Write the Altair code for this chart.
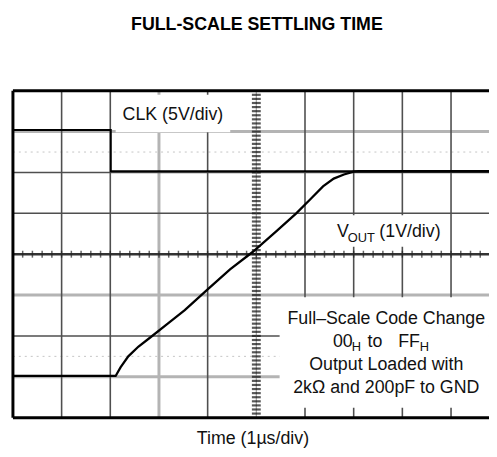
import altair as alt
import pandas as pd
import numpy as np

# ---------------- data (scope divisions: x from left edge, y from bottom) ----------------
clk_x = [0.0, 2.01, 2.01, 9.78]
clk_y = [7.04, 7.04, 6.03, 6.03]

vout_x = [0.0, 2.11, 2.21, 2.37, 2.58, 2.84, 3.18, 3.53, 4.00, 4.46, 4.93, 5.42, 5.82,
          6.13, 6.37, 6.59, 6.80, 7.00, 7.10, 9.78]
vout_y = [1.02, 1.02, 1.23, 1.50, 1.74, 1.98, 2.30, 2.63, 3.14, 3.63, 4.06, 4.57, 5.00,
          5.37, 5.66, 5.85, 5.95, 6.02, 6.03, 6.03]

dark_vgrid = [1, 2, 4, 6, 7, 8, 9]
light_vgrid = [3]
dark_hgrid = [2, 5, 6]
light_hgrid = [1, 3, 7]
faint_hgrid = [1.5, 6.5]

title_text = "FULL-SCALE SETTLING TIME"
xlabel_text = "Time (1\u00b5s/div)"

X_MAX = 9.78
W, H = 482, 331
FONT = "Liberation Sans"

xs = alt.Scale(domain=[0, X_MAX], nice=False, zero=False)
ys = alt.Scale(domain=[0, 8], nice=False, zero=False)

def vrules(vals, color, width, dash=None):
    m = alt.Chart(pd.DataFrame({"x": vals})).mark_rule(color=color, strokeWidth=width,
                                                      **({"strokeDash": dash} if dash else {}))
    return m.encode(x=alt.X("x:Q", scale=xs, axis=None))

def hrules(vals, color, width, dash=None):
    m = alt.Chart(pd.DataFrame({"y": vals})).mark_rule(color=color, strokeWidth=width,
                                                      **({"strokeDash": dash} if dash else {}))
    return m.encode(y=alt.Y("y:Q", scale=ys, axis=None))

layers = []
layers.append(hrules(faint_hgrid, "#c4c4c4", 1, [2, 4]))
layers.append(vrules(light_vgrid, "#b4b4b4", 3))
layers.append(hrules(light_hgrid, "#b4b4b4", 3))
layers.append(vrules(dark_vgrid, "#4f4f4f", 1.6))
layers.append(hrules(dark_hgrid, "#4f4f4f", 1.6))

# centre graticule with minor ticks
layers.append(vrules([5], "#a0a0a0", 1.2))
layers.append(hrules([4], "#333333", 2.5))
vt = np.round(np.arange(0.1, 8.0, 0.1), 2)
layers.append(alt.Chart(pd.DataFrame({"x": [5.0] * len(vt), "y": vt}))
              .mark_tick(orient="horizontal", size=9, thickness=2.2, color="#111111")
              .encode(x=alt.X("x:Q", scale=xs, axis=None), y=alt.Y("y:Q", scale=ys, axis=None)))
ht = np.round(np.arange(0.2, X_MAX, 0.2), 2)
layers.append(alt.Chart(pd.DataFrame({"x": ht, "y": [4.0] * len(ht)}))
              .mark_tick(orient="vertical", size=7, thickness=1.5, color="#222222")
              .encode(x=alt.X("x:Q", scale=xs, axis=None), y=alt.Y("y:Q", scale=ys, axis=None)))

# frame (right side is cut off in the reference)
layers.append(vrules([0], "black", 3))
layers.append(hrules([0, 8], "black", 3))

# white label boxes (pixel coords relative to plot origin)
OX, OY = 13, 89
boxes = pd.DataFrame({
    "x1": [117 - OX, 336 - OX, 283 - OX],
    "x2": [233 - OX, 449 - OX, W],
    "y1": [93 - OY, 215 - OY, 298 - OY],
    "y2": [131 - OY, 247 - OY, 410 - OY],
})
layers.append(alt.Chart(boxes).mark_rect(color="white").encode(
    x=alt.X("x1:Q", scale=None, axis=None), x2="x2:Q",
    y=alt.Y("y1:Q", scale=None, axis=None), y2="y2:Q"))

# traces
layers.append(alt.Chart(pd.DataFrame({"x": clk_x, "y": clk_y, "o": range(len(clk_x))}))
              .mark_line(color="black", strokeWidth=2)
              .encode(x=alt.X("x:Q", scale=xs, axis=None), y=alt.Y("y:Q", scale=ys, axis=None),
                      order="o:Q"))
layers.append(alt.Chart(pd.DataFrame({"x": vout_x, "y": vout_y, "o": range(len(vout_x))}))
              .mark_line(color="black", strokeWidth=2.3)
              .encode(x=alt.X("x:Q", scale=xs, axis=None), y=alt.Y("y:Q", scale=ys, axis=None),
                      order="o:Q"))

# texts
center_txt = pd.DataFrame({
    "t": ["CLK (5V/div)", "Full\u2013Scale Code Change", "Output Loaded with",
          "2k\u03a9 and 200pF to GND", xlabel_text],
    "px": [175 - OX, 391 - OX, 391 - OX, 391 - OX, 256 - OX],
    "py": [119 - OY, 325 - OY, 372 - OY, 395 - OY, 447 - OY],
    "fs": [18, 18, 18, 18, 18],
})
layers.append(alt.Chart(center_txt).mark_text(align="center", baseline="alphabetic", font=FONT,
                                              color="#111111").encode(
    x=alt.X("px:Q", scale=None, axis=None), y=alt.Y("py:Q", scale=None, axis=None),
    text="t:N", size=alt.Size("fs:Q", scale=None, legend=None)))

left_txt = pd.DataFrame({
    "t": ["V", "OUT", "(1V/div)", "00", "H", "to", "FF", "H"],
    "px": [341 - OX, 352 - OX, 384 - OX, 337 - OX, 356 - OX, 372 - OX, 403 - OX, 425 - OX],
    "py": [237 - OY, 242 - OY, 237 - OY, 348 - OY, 353 - OY, 348 - OY, 348 - OY, 353 - OY],
    "fs": [18, 13, 18, 18, 13, 18, 18, 13],
})
layers.append(alt.Chart(left_txt).mark_text(align="left", baseline="alphabetic", font=FONT,
                                            color="#111111").encode(
    x=alt.X("px:Q", scale=None, axis=None), y=alt.Y("py:Q", scale=None, axis=None),
    text="t:N", size=alt.Size("fs:Q", scale=None, legend=None)))

layers.append(alt.Chart(pd.DataFrame({"t": [title_text], "px": [260 - OX], "py": [27 - OY]}))
              .mark_text(align="center", baseline="alphabetic", font=FONT, fontSize=18,
                         fontWeight="bold", color="black")
              .encode(x=alt.X("px:Q", scale=None, axis=None), y=alt.Y("py:Q", scale=None, axis=None),
                      text="t:N"))

chart = alt.layer(*layers).properties(
    width=W, height=H,
    autosize=alt.AutoSizeParams(type="none"),
    padding={"left": 5, "top": 81, "right": 0, "bottom": 32},
).configure_view(stroke=None)

chart.save("out.html", embed_options={"renderer": "svg", "actions": False})
